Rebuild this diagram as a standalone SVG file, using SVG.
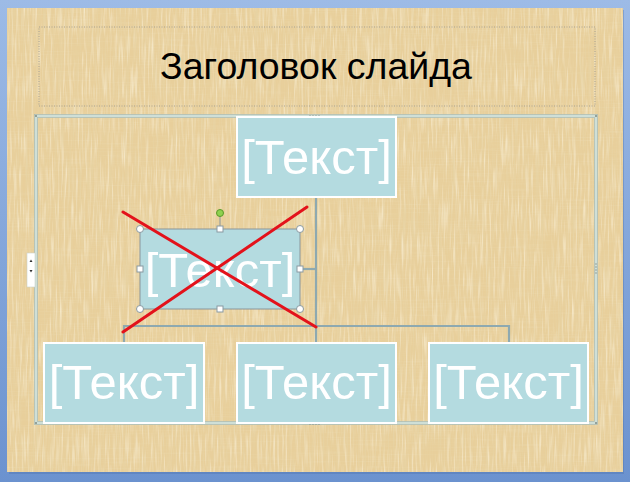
<svg xmlns="http://www.w3.org/2000/svg" width="630" height="482" viewBox="0 0 630 482">
<defs>
<style>
.node{fill:#b4dbe0;stroke:#ffffff;stroke-width:2}
.ntxt{font-family:"Liberation Sans",Arial,sans-serif;font-size:49px;fill:#ffffff;text-anchor:middle}
.conn{fill:none;stroke:#8ea9b0;stroke-width:2.2}
.cross{stroke:#e3121b;stroke-width:3;stroke-linecap:round}
.hc{fill:#ffffff;stroke:#8a9aa2;stroke-width:1}
</style>
<linearGradient id="blue" x1="0" y1="0" x2="0" y2="1">
<stop offset="0" stop-color="#9dbbe6"/>
<stop offset="1" stop-color="#6b92cf"/>
</linearGradient>
<filter id="tex" x="0" y="0" width="100%" height="100%">
<feTurbulence type="fractalNoise" baseFrequency="0.6 0.02" numOctaves="2" seed="3" result="n1"/>
<feColorMatrix in="n1" type="matrix" values="0 0 0 0 0.80  0 0 0 0 0.66  0 0 0 0 0.38  0 0 0 1.8 -0.8" result="v"/>
<feTurbulence type="fractalNoise" baseFrequency="0.5 0.03" numOctaves="2" seed="11" result="n3"/>
<feColorMatrix in="n3" type="matrix" values="0 0 0 0 0.97  0 0 0 0 0.90  0 0 0 0 0.72  0 0 0 1.6 -0.75" result="v2"/>
<feTurbulence type="fractalNoise" baseFrequency="0.02 0.7" numOctaves="2" seed="7" result="n2"/>
<feColorMatrix in="n2" type="matrix" values="0 0 0 0 0.85  0 0 0 0 0.72  0 0 0 0 0.45  0 0 0 0.8 -0.4" result="h"/>
<feMerge><feMergeNode in="h"/><feMergeNode in="v2"/><feMergeNode in="v"/></feMerge>
</filter>
</defs>
<rect x="0" y="0" width="630" height="482" fill="url(#blue)"/>
<rect x="9" y="10" width="615" height="464" fill="#4a6fa8" opacity="0.35"/>
<rect x="7" y="8" width="616" height="464" fill="#e8cf9b"/>
<rect x="7" y="8" width="616" height="464" filter="url(#tex)"/>

<g id="title">
<rect x="39" y="27" width="556" height="79" fill="none" stroke="#a8a292" stroke-width="1" stroke-dasharray="1,1.5"/>
<text x="316" y="79" font-family="'Liberation Sans',Arial,sans-serif" font-size="37.5" fill="#000000" text-anchor="middle">Заголовок слайда</text>
</g>

<g id="frame">
<rect x="36" y="116" width="560" height="307" fill="none" stroke="#cfdfd7" stroke-width="3"/>
<rect x="34.5" y="114.5" width="563" height="310" fill="none" stroke="#a9bbb4" stroke-width="0.7"/>
<rect x="37.5" y="117.5" width="557" height="304" fill="none" stroke="#a9bbb4" stroke-width="0.7"/>
<g fill="#7f8c86">
<circle cx="310" cy="116" r="0.7"/><circle cx="313" cy="116" r="0.7"/><circle cx="316" cy="116" r="0.7"/><circle cx="319" cy="116" r="0.7"/>
<circle cx="310" cy="424" r="0.7"/><circle cx="313" cy="424" r="0.7"/><circle cx="316" cy="424" r="0.7"/><circle cx="319" cy="424" r="0.7"/>
<circle cx="596" cy="264" r="0.7"/><circle cx="596" cy="267" r="0.7"/><circle cx="596" cy="270" r="0.7"/><circle cx="596" cy="273" r="0.7"/>
<circle cx="36" cy="116" r="1"/><circle cx="596" cy="116" r="1"/><circle cx="36" cy="423" r="1"/><circle cx="596" cy="423" r="1"/>
</g>
<rect x="27" y="253" width="8" height="34" fill="#ffffff" stroke="#c9d2cd" stroke-width="0.6"/>
<path d="M29.5 262 L31 259.5 L32.5 262 Z M29.5 270 L31 272.5 L32.5 270 Z" fill="#333333"/>
</g>

<g id="connectors">
<path class="conn" d="M316 197 V326"/>
<path class="conn" d="M300 269 H316"/>
<path class="conn" d="M124 343 V326 H509 V343"/>
<path class="conn" d="M316 326 V343"/>
</g>

<g id="node-top">
<rect class="node" x="237" y="117" width="159" height="80"/>
<text class="ntxt" x="316.5" y="174">[Текст]</text>
</g>

<g id="node-middle">
<rect x="140" y="229" width="160" height="80" fill="#b4dbe0" stroke="#8a969c" stroke-width="1"/>
<text class="ntxt" x="220" y="287">[Текст]</text>
<line x1="220" y1="213" x2="220" y2="229" stroke="#8a969c" stroke-width="1"/>
<circle cx="220" cy="213" r="3.5" fill="#8fd14f" stroke="#5a9a2a" stroke-width="1"/>
<circle class="hc" cx="140" cy="229" r="3.5"/>
<circle class="hc" cx="300" cy="229" r="3.5"/>
<circle class="hc" cx="140" cy="309" r="3.5"/>
<circle class="hc" cx="300" cy="309" r="3.5"/>
<rect class="hc" x="217" y="226" width="6" height="6"/>
<rect class="hc" x="217" y="306" width="6" height="6"/>
<rect class="hc" x="137" y="266" width="6" height="6"/>
<rect class="hc" x="297" y="266" width="6" height="6"/>
<line class="cross" x1="123" y1="212" x2="316" y2="327"/>
<line class="cross" x1="307" y1="207" x2="123" y2="332"/>
</g>

<g id="node-bottom-left">
<rect class="node" x="44" y="343" width="160" height="80"/>
<text class="ntxt" x="124" y="399">[Текст]</text>
</g>
<g id="node-bottom-center">
<rect class="node" x="237" y="343" width="159" height="80"/>
<text class="ntxt" x="316.5" y="399">[Текст]</text>
</g>
<g id="node-bottom-right">
<rect class="node" x="429" y="343" width="159" height="80"/>
<text class="ntxt" x="508.5" y="399">[Текст]</text>
</g>
</svg>
